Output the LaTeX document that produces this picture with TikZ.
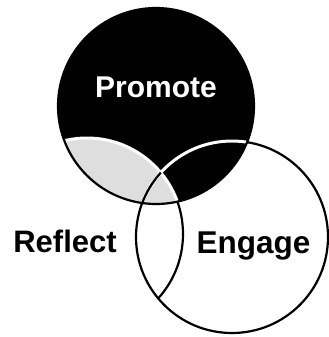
\documentclass[tikz,border=0pt]{standalone}
\usepackage{fontspec}
\setmainfont{Liberation Sans}

\newcommand\rPromote{98}
\newcommand\rReflect{96}
\newcommand\rEngage{96}

\begin{document}
\begin{tikzpicture}[x=1bp,y=-1bp,
  outline/.style={black,line width=2.2bp},
  innerline/.style={white,line width=3bp},
  venntext/.style={font=\fontsize{#1}{36bp}\selectfont\bfseries,inner sep=0pt,anchor=base},
  venntext/.default=30bp]

  \useasboundingbox (0,0) rectangle (329,337);

  \coordinate (P) at (156,106);
  \coordinate (R) at (87,234);
  \coordinate (E) at (232,237);

  % lower circles
  \draw[outline] (E) circle (\rEngage);
  \begin{scope}
    \clip (E) circle (\rEngage);
    \draw[outline] (R) circle (\rReflect);
  \end{scope}

  % top circle and its overlaps
  \fill[black] (P) circle (\rPromote);
  \begin{scope}
    \clip (P) circle (\rPromote);
    \fill[black!13] (R) circle (\rReflect);
    \draw[innerline] (E) circle (\rEngage);
    \draw[innerline] (R) circle (\rReflect);
    \clip (R) circle (\rReflect);
    \draw[outline] (E) circle (\rEngage);
  \end{scope}
  \draw[outline] (P) circle (\rPromote);

  \node[venntext,white]   (promote) at (156,97)    {Promote};
  \node[venntext=31bp]    (reflect) at (65,252)    {Reflect};
  \node[venntext=31.5bp]  (engage)  at (253.5,253) {Engage};
\end{tikzpicture}
\end{document}
